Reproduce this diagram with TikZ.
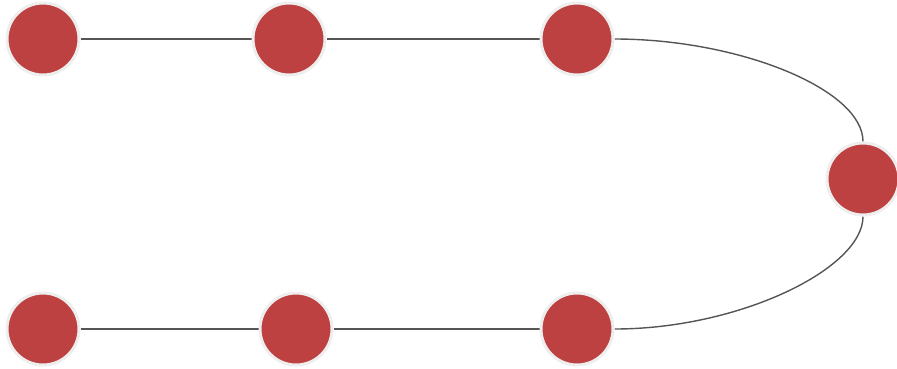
\documentclass[tikz,border=0pt]{standalone}
\usepackage{xcolor}
\usepackage{tikz}
\usetikzlibrary{positioning, backgrounds}

\definecolor{dotred}{HTML}{BE4141}
\definecolor{ringgray}{HTML}{EEEEEE}
\definecolor{linkgray}{HTML}{555555}

\begin{document}
\begin{tikzpicture}[
      x=1pt, y=-1pt,
      dot/.style={circle, draw=ringgray, line width=3pt, fill=dotred, minimum size=72pt, inner sep=0pt},
      link/.style={draw=linkgray, line width=1.4pt}
    ]
    \useasboundingbox (0,0) rectangle (897,368);
    % Nodes
    \node[dot] (t1) at (43,39) {};
    \node[dot] (t2) at (289,39) {};
    \node[dot] (t3) at (577,39) {};
    \node[dot] (r) at (863,179) {};
    \node[dot] (b1) at (43,329) {};
    \node[dot] (b2) at (296,329) {};
    \node[dot] (b3) at (577,329) {};

    % Edges
    \begin{scope}[on background layer]
    \draw[link] (t1) -- (t2);
    \draw[link] (t2) -- (t3);
    \draw[link] (t3.east) .. controls +(125,0) and +(0,-52) .. (r.north);
    \draw[link] (r.south) .. controls +(0,52) and +(125,0) .. (b3.east);
    \draw[link] (b1) -- (b2);
    \draw[link] (b2) -- (b3);
    \end{scope}
  \end{tikzpicture}
\end{document}
